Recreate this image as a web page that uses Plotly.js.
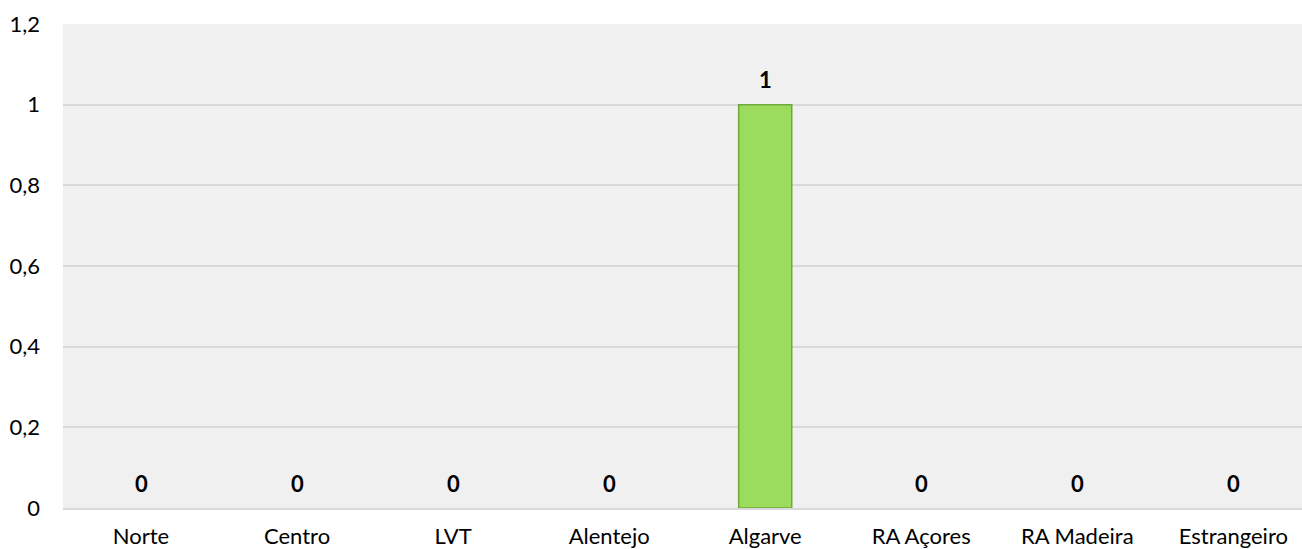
<!DOCTYPE html>
<html>
<head>
<meta charset="utf-8">
<script src="https://cdn.plot.ly/plotly-3.0.1.min.js"></script>
<style>
  html, body { margin: 0; padding: 0; background: #fff; }
  #chart { width: 1302px; height: 549px; }
</style>
</head>
<body>
<div id="chart"></div>
<script>
var regions = ["Norte", "Centro", "LVT", "Alentejo", "Algarve", "RA Açores", "RA Madeira", "Estrangeiro"];
var counts = [0, 0, 0, 0, 1, 0, 0, 0];
var yTicks = [0, 0.2, 0.4, 0.6, 0.8, 1, 1.2];

var font = "Lato, 'Open Sans', sans-serif";

var trace = {
  x: regions,
  y: counts,
  type: "bar",
  width: 0.34,
  marker: {
    color: "#9bdc5c",
    // no outline on empty bars
    line: { color: "#6fa83c", width: counts.map(function (v) { return v ? 1.5 : 0; }) }
  },
  hoverinfo: "none"
};

// data labels above each bar
var labels = regions.map(function (r, i) {
  return {
    x: r, y: counts[i], text: "<b>" + counts[i] + "</b>",
    showarrow: false, yanchor: "middle", yshift: 25,
    font: { family: font, size: 22, color: "#000" }
  };
});

var layout = {
  width: 1302,
  height: 549,
  margin: { l: 63, r: 0, t: 24, b: 41 },
  paper_bgcolor: "#ffffff",
  plot_bgcolor: "#f0f0f0",
  separators: ", ",
  showlegend: false,
  font: { family: font, size: 22, color: "#000" },
  xaxis: {
    range: [-0.5, 7.44],
    showgrid: false,
    showline: true, linecolor: "#d9d9d9", linewidth: 2,
    ticks: "", ticklabelstandoff: 8,
    tickfont: { family: font, size: 22 }
  },
  yaxis: {
    range: [0, 1.2],
    tickvals: yTicks,
    tickformat: ".1~f",
    showgrid: true, gridcolor: "#d9d9d9", gridwidth: 2,
    zeroline: false, showline: false,
    ticks: "", ticklabelstandoff: 22,
    tickfont: { family: font, size: 22 }
  },
  annotations: labels
};

Plotly.newPlot("chart", [trace], layout, { displayModeBar: false, staticPlot: true });
</script>
</body>
</html>
